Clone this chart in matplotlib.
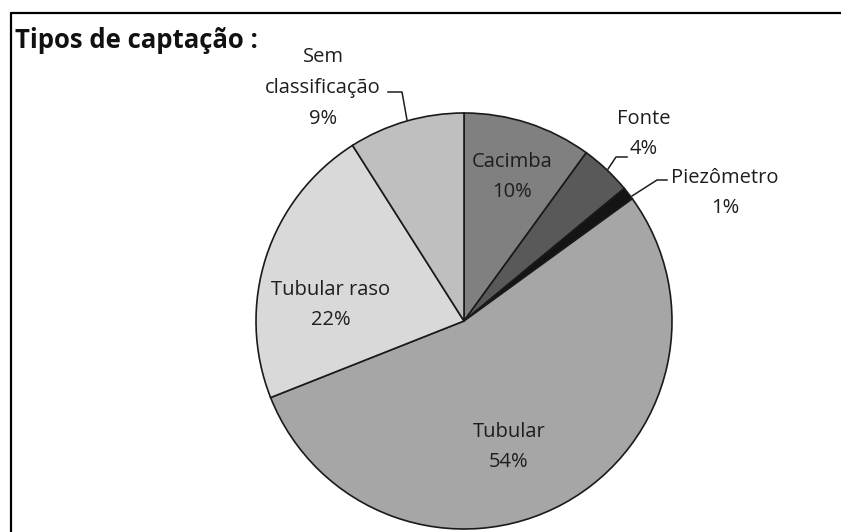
import matplotlib.pyplot as plt

# Tipos de captação (percentuais)
tipos = ['Cacimba', 'Fonte', 'Piezômetro', 'Tubular', 'Tubular raso', 'Sem\nclassificação']
valores = [10, 4, 1, 54, 22, 9]
cores = ['#808080', '#595959', '#141414', '#a6a6a6', '#d9d9d9', '#bfbfbf']

# posicao dos rotulos (pixels, y para baixo)
pos_rotulos = [(512, 177), (644, 134), (725, 193), (509, 447), (331, 305), (323, 88)]

# linhas de chamada para as fatias pequenas
chamadas = {
    'Fonte': ([627, 616, 608], [157, 157, 169]),
    'Piezômetro': ([667, 657, 632], [180, 180, 196]),
    'Sem\nclassificação': ([388, 402, 407], [92, 92, 120]),
}

W, H = 841, 532
fig = plt.figure(figsize=(W / 100, H / 100), dpi=100)
ax = fig.add_axes([0, 0, 1, 1])

# eixo y invertido: sentido anti-horario nos dados vira horario na tela
ax.pie(valores, colors=cores, startangle=-90, counterclock=True,
       center=(464, 321), radius=208, frame=True,
       wedgeprops=dict(edgecolor='#1a1a1a', linewidth=1.2))

for nome, v, (x, y) in zip(tipos, valores, pos_rotulos):
    ax.text(x, y, f'{nome}\n{v}%', ha='center', va='center',
            family='Open Sans', fontsize=14.5, color='#1e1e1e', linespacing=1.7)

for nome, (xs, ys) in chamadas.items():
    ax.plot(xs, ys, color='#1e1e1e', lw=1.1)

ax.text(15, 40, 'Tipos de captação :', ha='left', va='center',
        family='Open Sans', fontweight='bold', fontsize=18.5, color='#111111')

# moldura (so topo e lado esquerdo aparecem)
ax.plot([11, W], [13, 13], color='black', lw=1.6, solid_capstyle='butt')
ax.plot([11.5, 11.5], [12, H], color='black', lw=1.6, solid_capstyle='butt')

ax.set_xlim(0, W)
ax.set_ylim(H, 0)
ax.set_aspect('auto')
ax.axis('off')

fig.savefig('out.png', dpi=100, facecolor='white')
